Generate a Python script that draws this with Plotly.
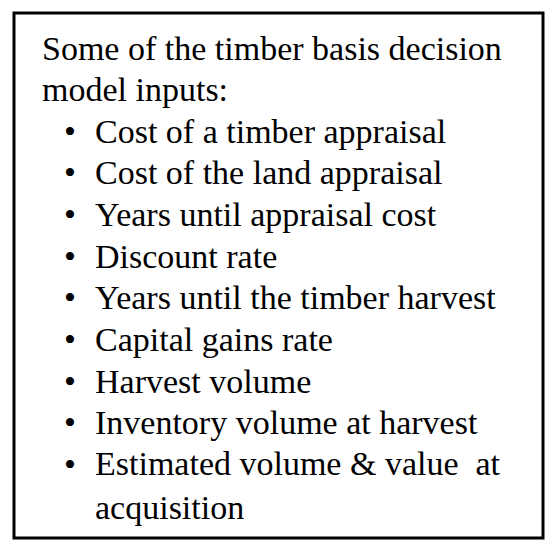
import plotly.graph_objects as go

heading = ["Some of the timber basis decision", "model inputs:"]
items = [
    "Cost of a timber appraisal",
    "Cost of the land appraisal",
    "Years until appraisal cost",
    "Discount rate",
    "Years until the timber harvest",
    "Capital gains rate",
    "Harvest volume",
    "Inventory volume at harvest",
    "Estimated volume & value  at<br>acquisition",
]

# page has an 8px body margin, so coordinates are shifted by -8
W, H = 541, 536
font = dict(family="Liberation Serif", size=34, color="black")

fig = go.Figure()
ann = []
y = 40
for line in heading:
    ann.append(dict(x=32, y=y, text=line, xanchor="left", yanchor="middle", showarrow=False, font=font))
    y += 41.5
for it in items:
    ann.append(dict(x=54, y=y, text="•", xanchor="left", yanchor="middle", showarrow=False, font=font))
    if "<br>" in it:
        ann.append(dict(x=85, y=y - 22, text=it, xanchor="left", yanchor="top", showarrow=False,
                        font=font, align="left"))
    else:
        ann.append(dict(x=85, y=y, text=it, xanchor="left", yanchor="middle", showarrow=False, font=font))
    y += 41.7

fig.update_layout(
    width=W, height=H, margin=dict(l=0, r=0, t=0, b=0),
    paper_bgcolor="white", plot_bgcolor="white",
    xaxis=dict(range=[0, W], visible=False, fixedrange=True),
    yaxis=dict(range=[H, 0], visible=False, fixedrange=True),
    annotations=ann,
    shapes=[dict(type="rect", x0=6, y0=5, x1=535, y1=530, line=dict(color="black", width=3))],
    showlegend=False,
)
fig.write_html("out.html")
